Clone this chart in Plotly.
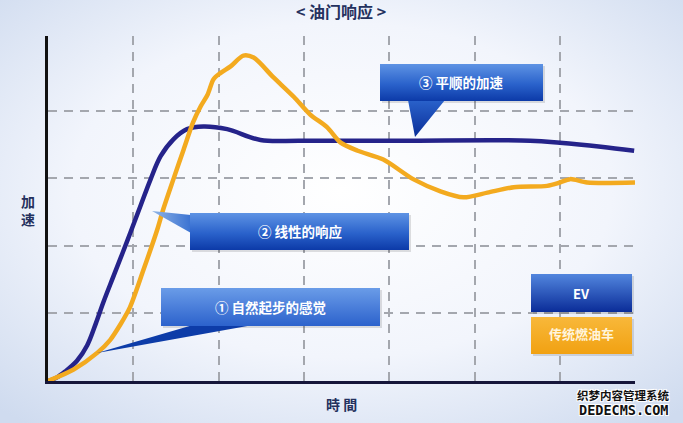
import base64
import plotly.graph_objects as go

# Canvas and plot area (pixels)
W, H = 683, 423
M_L, M_R, M_T, M_B = 48, 48, 36, 42
PLOT_W = W - M_L - M_R
PLOT_H = H - M_T - M_B

# Axis extents in grid units (one grid step = one unit)
X_MAX = 6.88
Y_MAX = 5.11

# Data
series_names = ["EV", "传统燃油车"]

ev_time = [0, 0.10, 0.20, 0.34, 0.46, 0.56, 0.65, 0.77, 0.93, 1.08, 1.20, 1.32,
           1.47, 1.63, 1.82, 2.10, 2.49, 2.96, 4.13, 5.65, 6.00, 6.48, 6.87]
ev_accel = [0, 0.05, 0.14, 0.30, 0.53, 0.85, 1.17, 1.56, 2.08, 2.58, 2.98, 3.33,
            3.58, 3.73, 3.77, 3.73, 3.57, 3.56, 3.56, 3.56, 3.53, 3.47, 3.41]

ice_time = [0, 0.30, 0.58, 0.73, 0.85, 0.96, 1.12, 1.28, 1.35, 1.47, 1.59, 1.70,
            1.79, 1.87, 1.94, 2.02, 2.14, 2.29, 2.41, 2.64, 2.88, 3.07, 3.27,
            3.43, 3.63, 3.93, 4.28, 4.60, 4.87, 5.15, 5.46, 5.85, 6.00, 6.12,
            6.32, 6.88]
ice_accel = [0, 0.17, 0.42, 0.61, 0.84, 1.09, 1.65, 2.24, 2.54, 2.99, 3.43, 3.83,
             4.07, 4.24, 4.47, 4.56, 4.66, 4.82, 4.79, 4.50, 4.21, 3.95, 3.76,
             3.53, 3.41, 3.28, 2.99, 2.81, 2.72, 2.79, 2.87, 2.89, 2.94, 2.99,
             2.94, 2.94]

x_grid = [1, 2, 3, 4, 5, 6]
y_grid = [1, 2, 3, 4]

title_text = "< 油门响应 >"
x_label = "時 間"
y_label = "加<br>速"
callout_texts = ["① 自然起步的感觉", "② 线性的响应", "③ 平顺的加速"]
watermark = ["织梦内容管理系统", "DEDECMS.COM"]

EV_COLOR = "#25238a"
ICE_COLOR = "#f3aa1f"
FONT = "Noto Sans CJK SC"


# pixel -> paper coords
def px(x):
    return (x - M_L) / PLOT_W


def py(y):
    return (H - M_B - y) / PLOT_H


def svg_uri(body):
    svg = ('<svg xmlns="http://www.w3.org/2000/svg" width="%d" height="%d" '
           'viewBox="0 0 %d %d" preserveAspectRatio="none">%s</svg>' % (W, H, W, H, body))
    return "data:image/svg+xml;base64," + base64.b64encode(svg.encode("utf-8")).decode()


# Background: soft radial gradient
bg_svg = svg_uri(
    '<defs><radialGradient id="g" cx="0.5" cy="0.45" r="0.72">'
    '<stop offset="0" stop-color="#ffffff"/>'
    '<stop offset="0.55" stop-color="#f2f5fc"/>'
    '<stop offset="1" stop-color="#cfdbef"/></radialGradient></defs>'
    '<rect width="%d" height="%d" fill="url(#g)"/>' % (W, H))

# Callout boxes and legend boxes
box_svg = svg_uri(
    '<defs>'
    '<linearGradient id="b" x1="0" y1="0" x2="0" y2="1">'
    '<stop offset="0" stop-color="#5e93e4"/><stop offset="0.55" stop-color="#2a62cb"/>'
    '<stop offset="1" stop-color="#0c3aa8"/></linearGradient>'
    '<linearGradient id="b1" x1="0" y1="0" x2="0" y2="1">'
    '<stop offset="0" stop-color="#6a9ce8"/><stop offset="1" stop-color="#2c62cc"/></linearGradient>'
    '<linearGradient id="t3" x1="0" y1="0" x2="0" y2="1">'
    '<stop offset="0" stop-color="#2a62cb"/><stop offset="1" stop-color="#0a2e98"/></linearGradient>'
    '<linearGradient id="t2" x1="0" y1="0" x2="1" y2="0">'
    '<stop offset="0" stop-color="#8fb4e6"/><stop offset="1" stop-color="#3a72d2"/></linearGradient>'
    '<linearGradient id="ev" x1="0" y1="0" x2="0" y2="1">'
    '<stop offset="0" stop-color="#5286de"/><stop offset="1" stop-color="#0a2c98"/></linearGradient>'
    '<linearGradient id="ic" x1="0" y1="0" x2="0" y2="1">'
    '<stop offset="0" stop-color="#f8b83a"/><stop offset="1" stop-color="#f1a112"/></linearGradient>'
    '</defs>'
    # shadows
    '<rect x="382" y="66" width="163" height="37" fill="#000" opacity="0.12"/>'
    '<rect x="192" y="215" width="219" height="37" fill="#000" opacity="0.12"/>'
    '<rect x="163" y="290" width="219" height="38" fill="#000" opacity="0.12"/>'
    '<rect x="533" y="276" width="101" height="38" fill="#000" opacity="0.12"/>'
    '<rect x="533" y="319" width="101" height="37" fill="#000" opacity="0.12"/>'
    # callout 3
    '<polygon points="408,100 445,100 415,137" fill="url(#t3)"/>'
    '<rect x="380" y="64" width="163" height="37" fill="url(#b)"/>'
    # callout 2
    '<polygon points="191,215 191,233 152,211" fill="url(#t2)"/>'
    '<rect x="190" y="213" width="219" height="37" fill="url(#b)"/>'
    # callout 1
    '<polygon points="193,325 253,325 97,353" fill="#0d3ca8"/>'
    '<rect x="161" y="288" width="219" height="38" fill="url(#b1)"/>'
    # legend
    '<rect x="531" y="274" width="101" height="38" fill="url(#ev)"/>'
    '<rect x="531" y="317" width="101" height="37" fill="url(#ic)"/>'
)

fig = go.Figure()

fig.add_trace(go.Scatter(x=ev_time, y=ev_accel, mode="lines", name=series_names[0],
                         line=dict(color=EV_COLOR, width=4.5, shape="spline", smoothing=1.0)))
fig.add_trace(go.Scatter(x=ice_time, y=ice_accel, mode="lines", name=series_names[1],
                         line=dict(color=ICE_COLOR, width=4.5, shape="spline", smoothing=0.8)))

fig.update_xaxes(range=[0, X_MAX], tickvals=x_grid, showticklabels=False, ticks="",
                 showgrid=True, gridcolor="#a4a7ae", gridwidth=1.5, griddash="9px,7px",
                 zeroline=False, showline=True, linecolor="#16163a", linewidth=3,
                 fixedrange=True)
fig.update_yaxes(range=[0, Y_MAX], tickvals=y_grid, showticklabels=False, ticks="",
                 showgrid=True, gridcolor="#a4a7ae", gridwidth=1.5, griddash="9px,7px",
                 zeroline=False, showline=True, linecolor="#111111", linewidth=2.5,
                 fixedrange=True)

images = [
    dict(source=bg_svg, xref="paper", yref="paper", x=px(0), y=py(0),
         sizex=W / PLOT_W, sizey=H / PLOT_H, xanchor="left", yanchor="top",
         sizing="stretch", layer="below"),
    dict(source=box_svg, xref="paper", yref="paper", x=px(0), y=py(0),
         sizex=W / PLOT_W, sizey=H / PLOT_H, xanchor="left", yanchor="top",
         sizing="stretch", layer="above"),
]


def label(text, x, y, size=12, color="white", family=FONT, shadow=None):
    font = dict(family=family, size=size, color=color)
    if shadow:
        font["shadow"] = shadow
    return dict(text="<b>%s</b>" % text, x=px(x), y=py(y), xref="paper", yref="paper",
                showarrow=False, xanchor="center", yanchor="middle", font=font)


white_edge = "1px 1px 0 #fff, -1px -1px 0 #fff, 1px -1px 0 #fff, -1px 1px 0 #fff"

annotations = [
    label(title_text, 341, 11, size=16, color="#24315e"),
    label(y_label, 28, 210, size=14, color="#24315e"),
    label(x_label, 342, 404, size=14, color="#24315e"),
    label(callout_texts[2], 461, 82, size=13.5),
    label(callout_texts[1], 300, 231, size=13.5),
    label(callout_texts[0], 270, 307, size=13.5),
    label(series_names[0], 581, 293, size=13),
    label(series_names[1], 581, 333, size=13, color="#fff4dc"),
    label(watermark[0], 623, 395, size=11.5, color="#111", shadow=white_edge),
    label(watermark[1], 623, 410, size=13.5, color="#111",
          family="DejaVu Sans Mono", shadow=white_edge),
]

fig.update_layout(
    width=W, height=H,
    margin=dict(l=M_L, r=M_R, t=M_T, b=M_B),
    paper_bgcolor="#e8eef8",
    plot_bgcolor="rgba(0,0,0,0)",
    showlegend=False,
    images=images,
    annotations=annotations,
)

# the page body has a default 8px margin; drop it so the figure fills the window
fig.write_html("out.html", config={"displayModeBar": False},
               post_script="document.body.style.margin='0';")
